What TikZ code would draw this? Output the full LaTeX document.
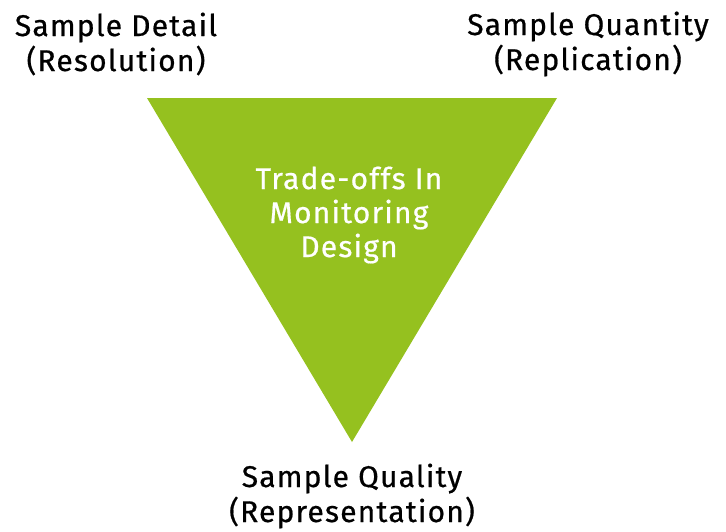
\documentclass[tikz,border=0pt]{standalone}
\usepackage{fontspec}
\setmainfont{Fira Sans}[LetterSpace=4, FakeBold=0.6]
\usetikzlibrary{positioning}
\definecolor{leafgreen}{HTML}{95C11F}
\tikzstyle{corner} = [align=center, font=\fontsize{30}{35}\selectfont, text=black, inner sep=0pt]
\tikzstyle{inner} = [align=center, font=\fontsize{30}{34}\selectfont, text=white, inner sep=0pt]

\begin{document}
\begin{tikzpicture}[x=1pt, y=-1pt]
 \useasboundingbox (0,0) rectangle (726,531);

 \coordinate (tl) at (147,98);
 \coordinate (tr) at (557,98);
 \coordinate (bt) at (352,442);
 \fill[leafgreen] (tl) -- (tr) -- (bt) -- cycle;

 \node (centre) [inner] at (349,215) {Trade-offs In\\Monitoring\\Design};

 \node (detail) [corner] at (116,44) {Sample Detail\\(Resolution)};
 \node (quantity) [corner] at (588,44) {Sample Quantity\\(Replication)};
 \node (quality) [corner] at (352,496) {Sample Quality\\(Representation)};
\end{tikzpicture}
\end{document}
